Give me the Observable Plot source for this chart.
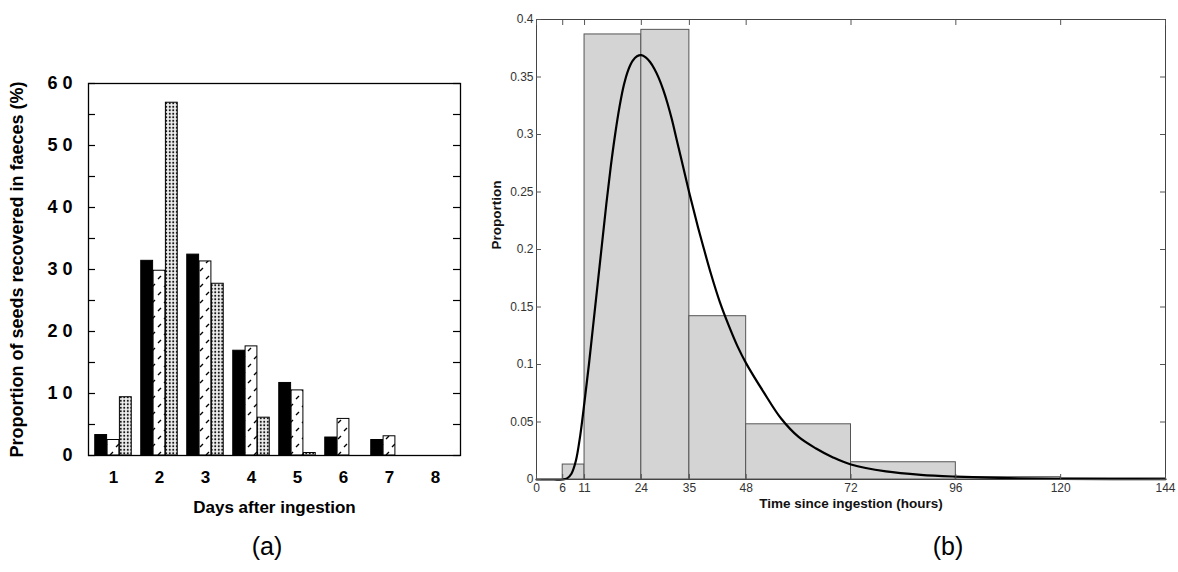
<!DOCTYPE html>
<html>
<head>
<meta charset="utf-8">
<script src="https://cdn.jsdelivr.net/npm/d3@7"></script>
<script src="https://cdn.jsdelivr.net/npm/@observablehq/plot@0.6"></script>
<style>
  html, body { margin: 0; padding: 0; background: #fff; }
  #wrap { position: relative; width: 1178px; height: 572px; overflow: hidden; background: #fff; }
  #left { position: absolute; left: 0; top: 0; }
  #right { position: absolute; left: 470px; top: 0; }
  .cap { position: absolute; top: 532px; font-family: "Liberation Sans", Arial, sans-serif; font-size: 25px; color: #000; width: 60px; text-align: center; }
</style>
</head>
<body>
<div id="wrap">
  <div id="left"></div>
  <div id="right"></div>
  <div class="cap" style="left:237px">(a)</div>
  <div class="cap" style="left:918px">(b)</div>
</div>
<script>
// ---------- Panel (a) data ----------
const days = [1, 2, 3, 4, 5, 6, 7, 8];
const seriesNames = ["solid", "hatched", "dotted"];
const solidValues = [3.3, 31.4, 32.4, 16.9, 11.7, 2.9, 2.5, 0];
const hatchedValues = [2.5, 29.8, 31.3, 17.6, 10.5, 5.9, 3.1, 0];
const dottedValues = [9.4, 56.9, 27.7, 6.1, 0.4, 0, 0, 0];
const leftYTicks = [0, 5, 10, 15, 20, 25, 30, 35, 40, 45, 50, 55, 60];

// ---------- Panel (b) data ----------
const binStart = [6, 11, 24, 35, 48, 72, 96, 120];
const binEnd = [11, 24, 35, 48, 72, 96, 120, 144];
const binProportion = [0.013, 0.387, 0.391, 0.142, 0.048, 0.015, 0.002, 0.001];
const curveHours = [0, 2, 4, 6, 7, 8, 9, 10, 11, 12, 13, 14, 15, 16, 17, 18, 19, 20, 21, 22, 23, 24, 25, 26, 27, 28, 29, 30, 31, 32, 33, 34, 35, 36, 37, 38, 40, 42, 44, 46, 48, 52, 56, 60, 64, 68, 72, 80, 88, 96, 108, 120, 132, 144];
const curveProportion = [0, 0, 0, 0, 0.001, 0.005, 0.016, 0.038, 0.068, 0.1, 0.135, 0.17, 0.205, 0.24, 0.272, 0.3, 0.324, 0.343, 0.356, 0.364, 0.368, 0.369, 0.367, 0.363, 0.357, 0.349, 0.339, 0.327, 0.313, 0.297, 0.281, 0.265, 0.249, 0.234, 0.219, 0.205, 0.178, 0.154, 0.134, 0.116, 0.101, 0.076, 0.053, 0.037, 0.027, 0.019, 0.013, 0.007, 0.004, 0.0025, 0.0012, 0.0006, 0.0003, 0.0002];
const rightXTicks = [0, 6, 11, 24, 35, 48, 72, 96, 120, 144];
const rightYTicks = [0, 0.05, 0.1, 0.15, 0.2, 0.25, 0.3, 0.35, 0.4];

// ---------- Build tables ----------
const valuesBySeries = {solid: solidValues, hatched: hatchedValues, dotted: dottedValues};
const barRows = [];
days.forEach((d, i) => {
  seriesNames.forEach(s => barRows.push({day: d, series: s, value: valuesBySeries[s][i]}));
});
const bins = binStart.map((s, i) => ({x1: s, x2: binEnd[i], p: binProportion[i]}));
const curvePts = curveHours.map((t, i) => ({t, p: curveProportion[i]}));

const font = "'Liberation Sans', Arial, Helvetica, sans-serif";
const spaced = d => String(d).split("").join(" ");

// inward tick marks along a vertical frame edge: a horizontal tick spanning the
// frame, trimmed with an inset so that only `len` pixels remain at one side
const edgeTicks = (values, side, frameWidth, len, style) => Plot.tickY(values, {
  y: d => d,
  ...(side === "left" ? {insetRight: frameWidth - len} : {insetLeft: frameWidth - len}),
  ...style
});

// ---------- Panel (a) ----------
// each day's band is shared by three adjacent bars (grouped bars via insets)
const fills = {solid: "black", hatched: "url(#hatchPat)", dotted: "url(#dotPat)"};
const groupInsets = {
  solid: {insetLeft: 4.75, insetRight: 29.4},
  hatched: {insetLeft: 17.1, insetRight: 17.1},
  dotted: {insetLeft: 29.4, insetRight: 4.75}
};
const leftW = 480, leftML = 88, leftMR = 20;
const leftFrameW = leftW - leftML - leftMR;
const leftPlot = Plot.plot({
  width: leftW,
  height: 530,
  marginLeft: leftML,
  marginRight: leftMR,
  marginTop: 83,
  marginBottom: 75,
  style: {fontFamily: font, color: "#000", background: "transparent"},
  x: {domain: days, padding: 0},
  y: {domain: [0, 60]},
  marks: [
    ...seriesNames.map(s =>
      Plot.barY(barRows.filter(r => r.series === s && r.value > 0), {
        x: "day", y: "value", ...groupInsets[s],
        fill: fills[s], stroke: "black", strokeWidth: 1
      })
    ),
    Plot.frame({stroke: "black", strokeWidth: 1.3}),
    edgeTicks(leftYTicks, "left", leftFrameW, 7, {stroke: "black", strokeWidth: 1.2}),
    edgeTicks(leftYTicks, "right", leftFrameW, 7, {stroke: "black", strokeWidth: 1.2}),
    Plot.axisY({
      anchor: "left", ticks: leftYTicks, tickSize: 0, tickPadding: 16,
      tickFormat: d => d % 10 === 0 ? spaced(d) : "",
      fontSize: 18, fontWeight: "bold", labelArrow: "none",
      label: "Proportion of seeds recovered in faeces (%)", labelAnchor: "center", labelOffset: 78
    }),
    Plot.axisX({
      anchor: "bottom", tickSize: 0, tickPadding: 15, fontSize: 17, fontWeight: "bold",
      label: "Days after ingestion", labelAnchor: "center", labelOffset: 57, labelArrow: "none"
    })
  ]
});

// patterns for the bar fills
const defs = d3.select(leftPlot).insert("defs", ":first-child");
const hatch = defs.append("pattern").attr("id", "hatchPat")
  .attr("patternUnits", "userSpaceOnUse").attr("width", 12).attr("height", 16);
hatch.append("rect").attr("width", 12).attr("height", 16).attr("fill", "white");
hatch.append("path").attr("d", "M2,7 L5,4 M8,15 L11,12")
  .attr("stroke", "black").attr("stroke-width", 1.4).attr("fill", "none");
const dots = defs.append("pattern").attr("id", "dotPat")
  .attr("patternUnits", "userSpaceOnUse").attr("width", 3.5).attr("height", 3.5);
dots.append("rect").attr("width", 3.5).attr("height", 3.5).attr("fill", "#f0f0f0");
dots.append("circle").attr("cx", 1.75).attr("cy", 1.75).attr("r", 1.05).attr("fill", "#111");

document.getElementById("left").appendChild(leftPlot);

// ---------- Panel (b) ----------
const rightW = 708, rightML = 66, rightMR = 13;
const rightFrameW = rightW - rightML - rightMR;
const rightPlot = Plot.plot({
  width: rightW,
  height: 530,
  marginLeft: rightML,
  marginRight: rightMR,
  marginTop: 19,
  marginBottom: 51,
  style: {fontFamily: font, color: "#333", background: "transparent"},
  x: {domain: [0, 144]},
  y: {domain: [0, 0.4]},
  marks: [
    Plot.rectY(bins, {x1: "x1", x2: "x2", y: "p", fill: "#d4d4d4", stroke: "#555", strokeWidth: 1}),
    Plot.line(curvePts, {x: "t", y: "p", curve: "catmull-rom", stroke: "black", strokeWidth: 2.2}),
    Plot.frame({stroke: "#444", strokeWidth: 1}),
    Plot.axisX({
      anchor: "bottom", ticks: rightXTicks, tickSize: -5, tickPadding: 9,
      fontSize: 12, stroke: "#555", label: null
    }),
    Plot.axisX({anchor: "top", ticks: rightXTicks, tickSize: -5, tickFormat: () => "", stroke: "#555", label: null}),
    edgeTicks(rightYTicks, "left", rightFrameW, 5, {stroke: "#555"}),
    edgeTicks(rightYTicks, "right", rightFrameW, 5, {stroke: "#555"}),
    Plot.axisY({
      anchor: "left", ticks: rightYTicks, tickSize: 0, tickPadding: 3,
      tickFormat: d => String(+d.toFixed(2)), fontSize: 12, label: null
    }),
    Plot.text(["Time since ingestion (hours)"], {
      frameAnchor: "bottom", dy: 28, text: d => d, fontWeight: "bold", fontSize: 13.5, fill: "#111"
    }),
    Plot.text(["Proportion"], {
      frameAnchor: "left", dx: -40, rotate: -90, text: d => d, fontWeight: "bold", fontSize: 13.5, fill: "#111"
    })
  ]
});
document.getElementById("right").appendChild(rightPlot);
</script>
</body>
</html>
